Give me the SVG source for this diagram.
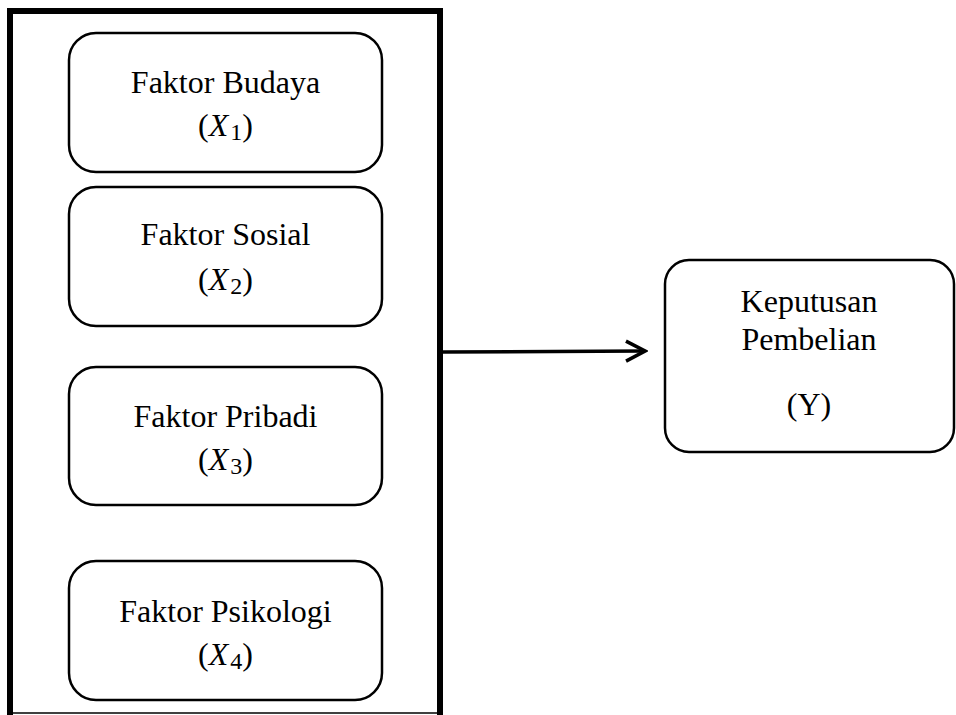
<svg xmlns="http://www.w3.org/2000/svg" width="956" height="715" viewBox="0 0 956 715">
<style>
.box{fill:#fff;stroke:#000;stroke-width:2.5}
.t{font-family:"Liberation Serif","Times New Roman",serif;font-size:32px;fill:#000;text-anchor:middle}
.x{font-style:italic}
.s{font-size:24px}
.c{fill:none;stroke:#000;stroke-width:3.5}
</style>
<defs>
<marker id="arr" markerUnits="userSpaceOnUse" markerWidth="24" markerHeight="26" refX="21" refY="12" orient="auto">
<path d="M2,2 L21,12 L2,22" fill="none" stroke="#000" stroke-width="3.5"/>
</marker>
</defs>
<rect width="956" height="715" fill="#fff"/>
<g id="frame">
<path d="M10,715 V11 H440 V715" fill="none" stroke="#000" stroke-width="6"/>
<line x1="10" y1="713" x2="440" y2="713" stroke="#000" stroke-width="1.5"/>
</g>
<g id="x1">
<rect class="box" x="69" y="33" width="313" height="139" rx="27"/>
<text class="t" x="225.5" y="93">Faktor Budaya</text>
<text class="t" x="225.5" y="136">(<tspan class="x">X</tspan><tspan class="s" dx="2" dy="4">1</tspan><tspan dy="-4">)</tspan></text>
</g>
<g id="x2">
<rect class="box" x="69" y="187" width="313" height="139" rx="27"/>
<text class="t" x="225.5" y="245">Faktor Sosial</text>
<text class="t" x="225.5" y="290">(<tspan class="x">X</tspan><tspan class="s" dx="2" dy="4">2</tspan><tspan dy="-4">)</tspan></text>
</g>
<g id="x3">
<rect class="box" x="69" y="367" width="313" height="138" rx="27"/>
<text class="t" x="225.5" y="427">Faktor Pribadi</text>
<text class="t" x="225.5" y="470">(<tspan class="x">X</tspan><tspan class="s" dx="2" dy="4">3</tspan><tspan dy="-4">)</tspan></text>
</g>
<g id="x4">
<rect class="box" x="69" y="561" width="313" height="139" rx="27"/>
<text class="t" x="225.5" y="622">Faktor Psikologi</text>
<text class="t" x="225.5" y="665">(<tspan class="x">X</tspan><tspan class="s" dx="2" dy="4">4</tspan><tspan dy="-4">)</tspan></text>
</g>
<g id="y">
<rect class="box" x="665" y="260" width="289" height="192" rx="24"/>
<text class="t" x="809" y="312">Keputusan</text>
<text class="t" x="809" y="350">Pembelian</text>
<text class="t" x="809" y="415">(Y)</text>
</g>
<g id="connectors">
<line class="c" x1="443" y1="352" x2="645" y2="351" marker-end="url(#arr)"/>
</g>
</svg>
